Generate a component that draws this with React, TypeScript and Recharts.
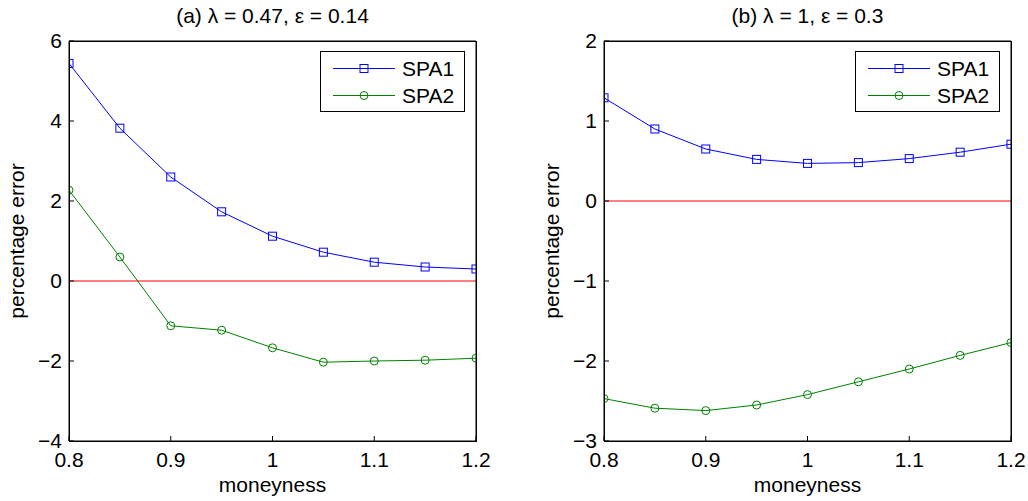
import { LineChart, Line, XAxis, YAxis, ReferenceLine, Legend } from 'recharts'

const moneyness = [0.8, 0.85, 0.9, 0.95, 1, 1.05, 1.1, 1.15, 1.2]
const xTicks = [0.8, 0.9, 1, 1.1, 1.2]

// panel (a)
const spa1A = [5.44, 3.82, 2.6, 1.73, 1.12, 0.72, 0.47, 0.35, 0.3]
const spa2A = [2.27, 0.6, -1.12, -1.23, -1.67, -2.03, -2.0, -1.98, -1.93]
const yTicksA = [-4, -2, 0, 2, 4, 6]

// panel (b)
const spa1B = [1.29, 0.9, 0.65, 0.52, 0.47, 0.48, 0.53, 0.61, 0.71]
const spa2B = [-2.47, -2.59, -2.62, -2.55, -2.42, -2.26, -2.1, -1.93, -1.77]
const yTicksB = [-3, -2, -1, 0, 1, 2]

const FONT = "'Liberation Sans', Arial, sans-serif"
const BLUE = '#0000ff'
const GREEN = '#008000'
const AXIS = '#000'

const fmt = (v: number) => (v < 0 ? '\u2212' + Math.abs(v) : String(v))

function SquareDot(props: any) {
  const { cx, cy, index } = props
  if (cx == null || cy == null) return <g key={`sq-${index}`} />
  return (
    <rect
      key={`sq-${index}`}
      x={cx - 4}
      y={cy - 4}
      width={8}
      height={8}
      fill="none"
      stroke={BLUE}
      strokeWidth={1}
    />
  )
}

function LegendBox({ payload }: { payload?: any[] }) {
  const items = (payload ?? []).filter((p) => p.type !== 'none')
  return (
    <div
      style={{
        position: 'relative',
        width: 145,
        height: 61,
        boxSizing: 'border-box',
        border: '1px solid #000',
        background: '#fff',
        fontFamily: FONT,
        fontSize: 21,
      }}
    >
      {items.map((p, i) => (
        <div
          key={p.value}
          style={{ position: 'absolute', left: 0, top: 3 + i * 27, height: 27, width: 143 }}
        >
          <svg width={80} height={27} style={{ position: 'absolute', left: 0, top: 0 }}>
            <line x1={12} x2={74} y1={13.5} y2={13.5} stroke={p.color} strokeWidth={1} />
            {p.type === 'square' ? (
              <rect x={39} y={9.5} width={8} height={8} fill="none" stroke={p.color} />
            ) : (
              <circle cx={43} cy={13.5} r={4} fill="none" stroke={p.color} />
            )}
          </svg>
          <span style={{ position: 'absolute', left: 81, top: 0, lineHeight: '27px', color: '#000' }}>
            {p.value}
          </span>
        </div>
      ))}
    </div>
  )
}

function Panel({
  left,
  title,
  spa1,
  spa2,
  yTicks,
}: {
  left: number
  title: string
  spa1: number[]
  spa2: number[]
  yTicks: number[]
}) {
  const data = moneyness.map((m, i) => ({ m, spa1: spa1[i], spa2: spa2[i] }))
  const lo = yTicks[0]
  const hi = yTicks[yTicks.length - 1]
  return (
    <div style={{ position: 'absolute', left, top: 0, width: 493, height: 501 }}>
      <LineChart
        width={493}
        height={501}
        data={data}
        margin={{ top: 40, right: 16, bottom: 24, left: 0 }}
      >
        <XAxis
          dataKey="m"
          type="number"
          domain={[0.8, 1.2]}
          ticks={xTicks}
          allowDataOverflow
          height={36}
          tick={{ fontSize: 21, fill: '#000' }}
          tickSize={-5}
          tickMargin={16}
          stroke={AXIS}
          label={{ value: 'moneyness', position: 'bottom', offset: 0, fontSize: 21, fill: '#000' }}
        />
        <XAxis
          xAxisId="top"
          orientation="top"
          dataKey="m"
          type="number"
          domain={[0.8, 1.2]}
          ticks={xTicks}
          allowDataOverflow
          height={1}
          tick={false}
          tickSize={-5}
          stroke={AXIS}
          label={{ value: title, position: 'top', offset: 17, fontSize: 21, fill: '#000' }}
        />
        <YAxis
          type="number"
          domain={[lo, hi]}
          ticks={yTicks}
          allowDataOverflow
          width={69}
          tick={{ fontSize: 21, fill: '#000' }}
          tickSize={-5}
          tickMargin={12}
          tickFormatter={fmt}
          stroke={AXIS}
          label={{
            value: 'percentage error',
            angle: -90,
            position: 'insideLeft',
            offset: 17,
            fontSize: 21,
            fill: '#000',
            style: { textAnchor: 'middle' },
          }}
        />
        <YAxis
          yAxisId="right"
          orientation="right"
          type="number"
          domain={[lo, hi]}
          ticks={yTicks}
          allowDataOverflow
          width={1}
          tick={false}
          tickSize={-5}
          stroke={AXIS}
        />
        <ReferenceLine y={0} stroke="#ff0000" strokeWidth={1} />
        <Legend
          layout="vertical"
          align="center"
          verticalAlign="middle"
          wrapperStyle={{ left: 320, top: 51, width: 145 }}
          content={(props: any) => <LegendBox payload={props.payload} />}
        />
        <Line
          type="linear"
          dataKey="spa1"
          name="SPA1"
          stroke={BLUE}
          strokeWidth={1}
          legendType="square"
          dot={SquareDot}
          activeDot={false}
          isAnimationActive={false}
        />
        <Line
          type="linear"
          dataKey="spa2"
          name="SPA2"
          stroke={GREEN}
          strokeWidth={1}
          legendType="circle"
          dot={{ r: 4, fill: 'none', stroke: GREEN, strokeWidth: 1 }}
          activeDot={false}
          isAnimationActive={false}
        />
        {/* keeps the top and right frame axes active */}
        <Line
          xAxisId="top"
          yAxisId="right"
          dataKey="spa1"
          stroke="none"
          dot={false}
          activeDot={false}
          legendType="none"
          isAnimationActive={false}
        />
      </LineChart>
      {/* plot frame (box on) */}
      <div
        style={{
          position: 'absolute',
          left: 69,
          top: 41,
          width: 408,
          height: 401,
          boxSizing: 'border-box',
          border: '1px solid #000',
          pointerEvents: 'none',
        }}
      />
    </div>
  )
}

export default function App() {
  return (
    <div
      style={{
        position: 'absolute',
        left: 0,
        top: 0,
        width: 1028,
        height: 501,
        fontFamily: FONT,
      }}
    >
      <Panel left={0} title={'(a) \u03bb = 0.47, \u03b5 = 0.14'} spa1={spa1A} spa2={spa2A} yTicks={yTicksA} />
      <Panel left={535} title={'(b) \u03bb = 1, \u03b5 = 0.3'} spa1={spa1B} spa2={spa2B} yTicks={yTicksB} />
    </div>
  )
}
